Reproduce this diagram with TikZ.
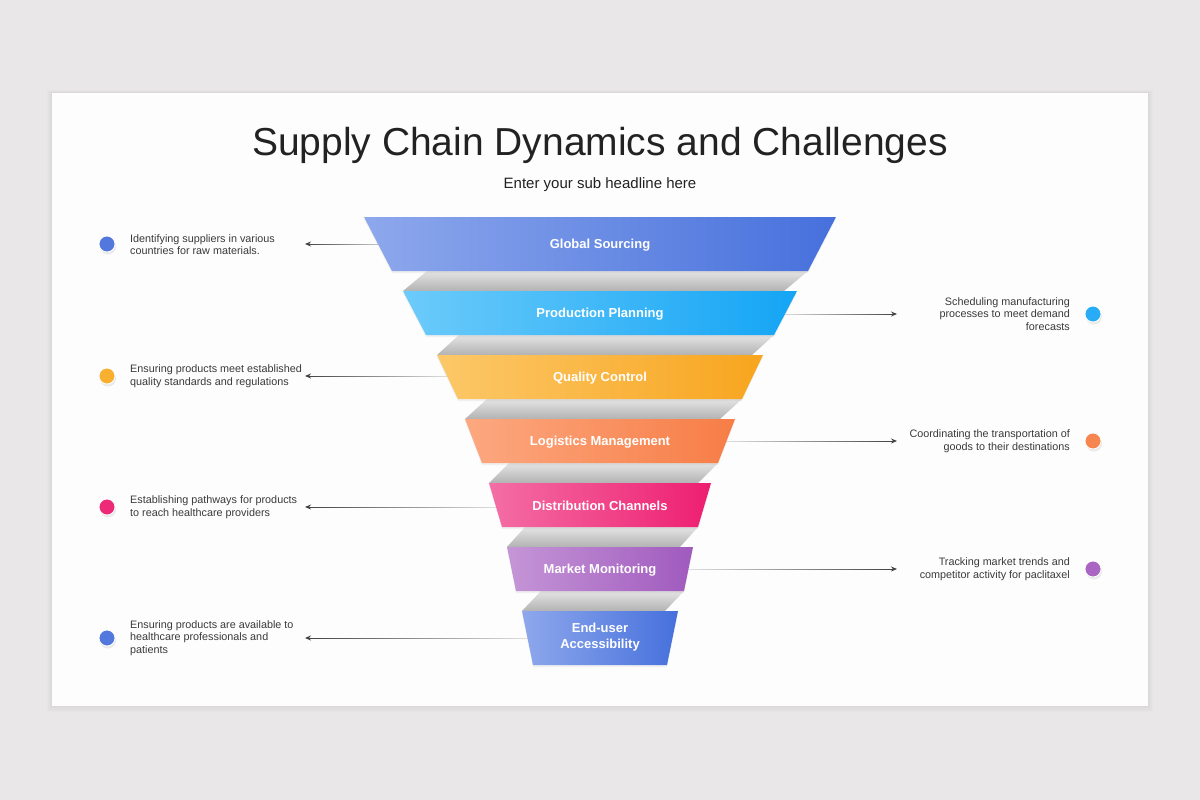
\documentclass[tikz,border=0pt]{standalone}
\usepackage{fontspec}
\setmainfont{Liberation Sans}
\usetikzlibrary{arrows.meta,shadows,calc,fadings}

\definecolor{bgc}{HTML}{E9E7E8}
\definecolor{cardc}{HTML}{FDFDFD}
\definecolor{titlec}{HTML}{222222}
\definecolor{txtc}{HTML}{3A3A3A}
\definecolor{linec}{HTML}{404040}
\definecolor{grayA}{HTML}{E4E4E4}
\definecolor{grayB}{HTML}{B2B2B2}
\definecolor{c1l}{RGB}{142,168,236}
\definecolor{c1r}{RGB}{70,112,220}
\definecolor{c2l}{RGB}{108,203,250}
\definecolor{c2r}{RGB}{20,165,245}
\definecolor{c3l}{RGB}{252,200,105}
\definecolor{c3r}{RGB}{248,165,30}
\definecolor{c4l}{RGB}{252,168,128}
\definecolor{c4r}{RGB}{247,125,70}
\definecolor{c5l}{RGB}{244,110,165}
\definecolor{c5r}{RGB}{238,30,112}
\definecolor{c6l}{RGB}{197,150,215}
\definecolor{c6r}{RGB}{160,90,190}
\definecolor{d1}{RGB}{82,120,222}
\definecolor{d2}{RGB}{40,172,246}
\definecolor{d3}{RGB}{249,176,48}
\definecolor{d4}{RGB}{247,133,80}
\definecolor{d5}{RGB}{236,42,120}
\definecolor{d6}{RGB}{170,100,196}

\tikzfading[name=fadetoright, left color=transparent!0, right color=transparent!85]
\tikzfading[name=fadetoleft, left color=transparent!85, right color=transparent!0]

\tikzset{
  bandshadow/.style={drop shadow={opacity=0.10,shadow xshift=0pt,shadow yshift=-2pt}},
  bandlabel/.style={text=white,font=\bfseries\fontsize{13}{16}\selectfont,inner sep=0pt,align=center},
  lefttext/.style={text=txtc,font=\fontsize{10.8}{12.6}\selectfont,inner sep=0pt,align=left,anchor=west},
  righttext/.style={text=txtc,font=\fontsize{10.8}{12.6}\selectfont,inner sep=0pt,align=right,anchor=east},
  dotstyle/.style={circle,minimum size=16pt,inner sep=0pt,draw=white,line width=0.8pt,
     drop shadow={opacity=0.15,shadow xshift=1pt,shadow yshift=-2.5pt}},
  conn/.style={draw=linec,line width=1pt,-{Stealth[length=6pt,width=5pt]}},
  connL/.style={conn,path fading=fadetoright},
  connR/.style={conn,path fading=fadetoleft}
}

% yt hwt yb hwb leftcolor rightcolor
\newcommand\fbandshape[6]{%
  \shade[left color=#5,right color=#6,bandshadow]
    ({600-#2},#1) -- ({600+#2},#1) -- ({600+#4},#3) -- ({600-#4},#3) -- cycle;}
% yb Rb yt Lt d
\newcommand\fgrayshape[5]{%
  \shade[top color=grayA,bottom color=grayB]
    (#4,#3) -- ({#4+#5},#1) -- (#2,#1) -- ({#2-#5},#3) -- cycle;}

\begin{document}
\begin{tikzpicture}[x=1pt,y=-1pt]
\useasboundingbox (0,0) rectangle (1200,800);
\fill[bgc] (0,0) rectangle (1200,800);
% card with soft shadow
\foreach \k in {1,...,5}{
  \fill[black,opacity=0.012] ({52-\k},{93-0.6*\k}) rectangle ({1148+\k},{706+1.2*\k});
}
\fill[cardc] (52,93) rectangle (1148,706);

% title
\node[text=titlec,font=\fontsize{39}{44}\selectfont,anchor=base,inner sep=0pt] (title) at (600,155) {Supply Chain Dynamics and Challenges};
\node[text=titlec,font=\fontsize{15}{18}\selectfont,anchor=base,inner sep=0pt] (subtitle) at (600,188) {Enter your sub headline here};

% connector end points
\coordinate (s1) at (392,244);  \coordinate (t1) at (305,244);
\coordinate (s2) at (782,314);  \coordinate (t2) at (897,314);
\coordinate (s3) at (448,376);  \coordinate (t3) at (305,376);
\coordinate (s4) at (726,441);  \coordinate (t4) at (897,441);
\coordinate (s5) at (497,507);  \coordinate (t5) at (305,507);
\coordinate (s6) at (689,569);  \coordinate (t6) at (897,569);
\coordinate (s7) at (528,638);  \coordinate (t7) at (305,638);

\draw[connL] ($(t1)+(0,4)$) ($(t1)+(0,-4)$) (s1) -- (t1);
\draw[connR] ($(t2)+(0,4)$) ($(t2)+(0,-4)$) (s2) -- (t2);
\draw[connL] ($(t3)+(0,4)$) ($(t3)+(0,-4)$) (s3) -- (t3);
\draw[connR] ($(t4)+(0,4)$) ($(t4)+(0,-4)$) (s4) -- (t4);
\draw[connL] ($(t5)+(0,4)$) ($(t5)+(0,-4)$) (s5) -- (t5);
\draw[connR] ($(t6)+(0,4)$) ($(t6)+(0,-4)$) (s6) -- (t6);
\draw[connL] ($(t7)+(0,4)$) ($(t7)+(0,-4)$) (s7) -- (t7);

% gray inner faces
\fgrayshape{271}{808}{291}{403}{24}
\fgrayshape{335}{774}{355}{437}{22}
\fgrayshape{399}{742}{419}{465}{22}
\fgrayshape{463}{718}{483}{489}{20}
\fgrayshape{527}{698}{547}{507}{18}
\fgrayshape{591}{684}{611}{522}{19}

% funnel bands
\fbandshape{217}{236}{271}{208}{c1l}{c1r}
\fbandshape{291}{197}{335}{174}{c2l}{c2r}
\fbandshape{355}{163}{399}{142}{c3l}{c3r}
\fbandshape{419}{135}{463}{118}{c4l}{c4r}
\fbandshape{483}{111}{527}{98}{c5l}{c5r}
\fbandshape{547}{93}{591}{84}{c6l}{c6r}
\fbandshape{611}{78}{665}{67}{c1l}{c1r}

\node[bandlabel,anchor=base] (b1) at (600,248.7) {Global Sourcing};
\node[bandlabel,anchor=base] (b2) at (600,317.7) {Production Planning};
\node[bandlabel,anchor=base] (b3) at (600,381.2) {Quality Control};
\node[bandlabel,anchor=base] (b4) at (600,445.7) {Logistics Management};
\node[bandlabel,anchor=base] (b5) at (600,510.7) {Distribution Channels};
\node[bandlabel,anchor=base] (b6) at (600,573.2) {Market Monitoring};
\node[bandlabel,font=\bfseries\fontsize{13}{16.5}\selectfont] (b7) at (600,637) {End-user\\Accessibility};

% dots
\node[dotstyle,fill=d1] (p1) at (107,244) {};
\node[dotstyle,fill=d2] (p2) at (1093,314) {};
\node[dotstyle,fill=d3] (p3) at (107,376) {};
\node[dotstyle,fill=d4] (p4) at (1093,441) {};
\node[dotstyle,fill=d5] (p5) at (107,507) {};
\node[dotstyle,fill=d6] (p6) at (1093,569) {};
\node[dotstyle,fill=d1] (p7) at (107,638) {};

% descriptions
\node[lefttext] (l1) at (130,244.5) {Identifying suppliers in various\\countries for raw materials.};
\node[righttext] (r1) at (1070,314) {Scheduling manufacturing\\processes to meet demand\\forecasts};
\node[lefttext] (l2) at (130,376) {Ensuring products meet established\\quality standards and regulations};
\node[righttext] (r2) at (1070,441) {Coordinating the transportation of\\goods to their destinations};
\node[lefttext] (l3) at (130,507) {Establishing pathways for products\\to reach healthcare providers};
\node[righttext] (r3) at (1070,569) {Tracking market trends and\\competitor activity for paclitaxel};
\node[lefttext] (l4) at (130,638) {Ensuring products are available to\\healthcare professionals and\\patients};
\end{tikzpicture}
\end{document}
